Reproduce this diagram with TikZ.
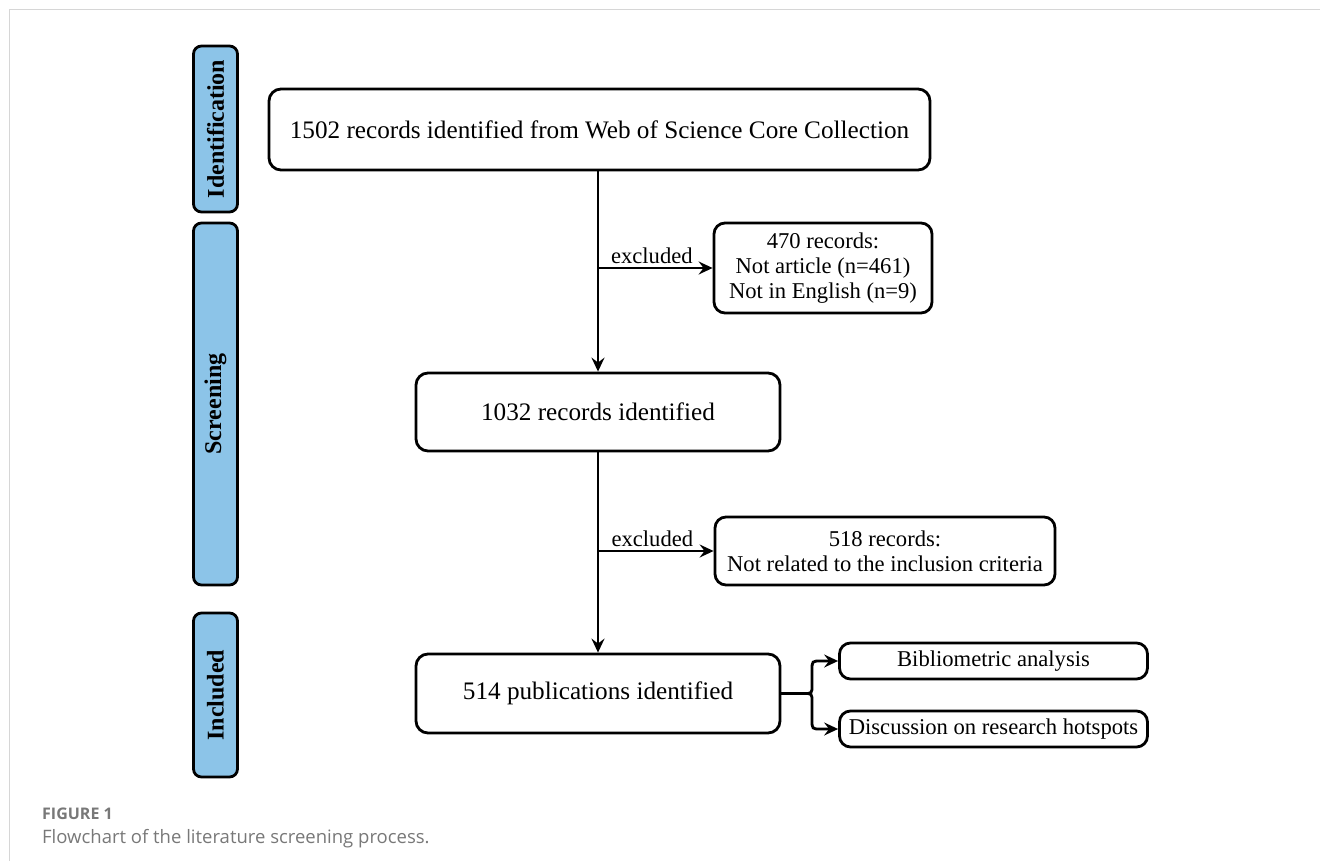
\documentclass[tikz,border=0pt]{standalone}
\usepackage{fontspec}
\setmainfont{Liberation Serif}
\newfontfamily\capfont{Open Sans}
\usetikzlibrary{arrows.meta}
\definecolor{tagblue}{RGB}{140,196,232}
\definecolor{framegrey}{RGB}{214,214,214}
\definecolor{capgrey}{RGB}{120,120,120}
\tikzset{
  mainbox/.style={draw=black, line width=2.8pt, rounded corners=12pt, inner sep=0pt, align=center,
    font=\fontsize{25.2}{30}\selectfont},
  sidebox/.style={draw=black, line width=2.8pt, rounded corners=11pt, inner sep=0pt, align=center,
    font=\fontsize{22.6}{25}\selectfont},
  tagbox/.style={draw=black, fill=tagblue, line width=2.8pt, rounded corners=8pt, inner sep=0pt,
    minimum width=44pt},
  tagtext/.style={rotate=90, font=\fontsize{24}{28}\selectfont\bfseries},
  flow/.style={line width=2.8pt, -{Stealth[length=14pt,width=13pt,inset=5pt]}},
  plainline/.style={line width=2.8pt},
  exlabel/.style={font=\fontsize{22.6}{26}\selectfont, anchor=south, inner sep=2.5pt},
}
\begin{document}
\begin{tikzpicture}[x=1pt,y=-1pt]
\useasboundingbox (0,0) rectangle (1320,861);
% frame lines
\draw[framegrey, line width=1.5pt] (9.5,861) -- (9.5,9.5) -- (1320,9.5);

% stage tags
\node[tagbox, minimum height=166pt] (tagI) at (215.5,129) {};
\node[tagtext] (tagIt) at (tagI.center) {Identification};
\node[tagbox, minimum height=362pt] (tagS) at (215.5,404) {};
\node[tagtext] (tagSt) at (tagS.center) {Screening};
\node[tagbox, minimum height=164pt] (tagN) at (215.5,695) {};
\node[tagtext] (tagNt) at (tagN.center) {Included};

% main boxes
\node[mainbox, minimum width=661pt, minimum height=81pt] (b1) at (599.5,129.5)
  {1502 records identified from Web of Science Core Collection};
\node[mainbox, minimum width=364pt, minimum height=78pt] (b2) at (598,412)
  {1032 records identified};
\node[mainbox, minimum width=364pt, minimum height=79pt] (b3) at (598,693.5)
  {514 publications identified};

% side boxes
\node[sidebox, minimum width=218pt, minimum height=90pt] (x1) at (823,268)
  {470 records:\\Not article (n=461)\\Not in English (n=9)};
\node[sidebox, minimum width=340pt, minimum height=68pt] (x2) at (885,551)
  {518 records:\\Not related to the inclusion criteria};
\node[sidebox, minimum width=308pt, minimum height=36pt] (o1) at (993.5,661)
  {Bibliometric analysis};
\node[sidebox, minimum width=308pt, minimum height=36pt] (o2) at (993.5,729)
  {Discussion on research hotspots};

% junctions
\coordinate (j1) at (598,268);
\coordinate (j2) at (598,551);
\coordinate (f0) at (804,693.5);

% flow
\draw[flow] (b1.south -| b2.north) -- (b2.north);
\draw[flow] (j1) -- node[exlabel, pos=0.47] {excluded} (x1.west);
\draw[flow] (b2.south) -- (b3.north);
\draw[flow] (j2) -- node[exlabel, pos=0.47] {excluded} (x2.west);

% fork
\draw[plainline] (b3.east) -- (f0);
\draw[flow] (f0) .. controls (812,693.5) .. (812,685) -- (812,670) .. controls (812,661) .. (821,661) -- (o1.west);
\draw[flow] (f0) .. controls (812,693.5) .. (812,702) -- (812,720) .. controls (812,729) .. (821,729) -- (o2.west);

% caption
\node[anchor=base west, inner sep=0pt, text=capgrey, font=\capfont\bfseries\fontsize{16}{19}\selectfont] (cap1) at (42,819) {FIGURE 1};
\node[anchor=base west, inner sep=0pt, text=capgrey, font=\capfont\fontsize{18.5}{22}\selectfont] (cap2) at (42,843) {Flowchart of the literature screening process.};
\end{tikzpicture}
\end{document}
